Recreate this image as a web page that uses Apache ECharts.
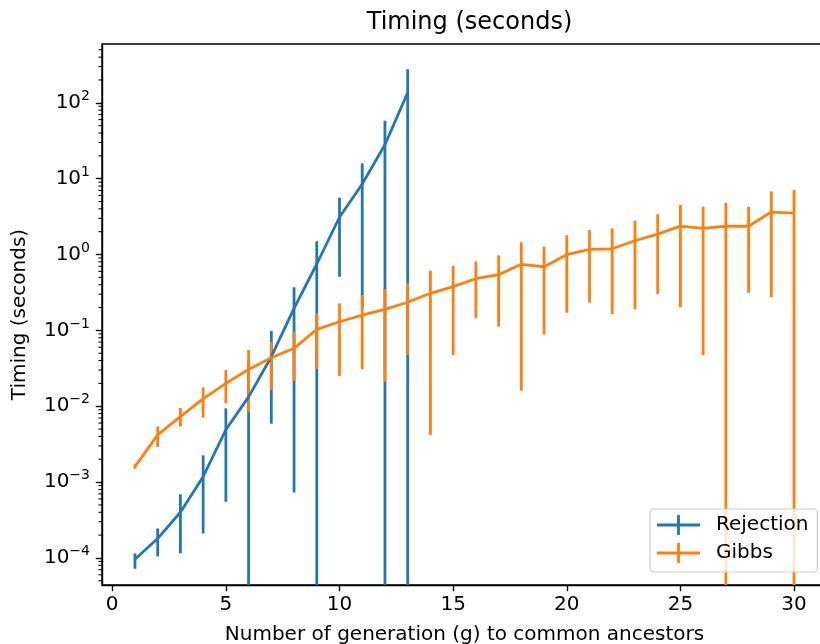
<!DOCTYPE html>
<html>
<head>
<meta charset="utf-8">
<script src="https://cdn.jsdelivr.net/npm/echarts@6/dist/echarts.min.js"></script>
<style>
  html, body { margin: 0; padding: 0; background: #fff; }
  #chart { width: 820px; height: 644px; }
</style>
</head>
<body>
<div id="chart"></div>
<script>
// generations (x)
const rejX = [1, 2, 3, 4, 5, 6, 7, 8, 9, 10, 11, 12, 13];
const gibbsX = [1, 2, 3, 4, 5, 6, 7, 8, 9, 10, 11, 12, 13, 14, 15,
  16, 17, 18, 19, 20, 21, 22, 23, 24, 25, 26, 27, 28, 29, 30];

// Rejection: mean timing and error bar ends (0 = lower end below the axis)
const rejMean = [9.6e-5, 1.8e-4, 4.0e-4, 1.18e-3, 4.9e-3, 1.33e-2, 4.5e-2, 0.195, 0.75, 3.1, 8.5, 28, 137];
const rejHigh = [1.15e-4, 2.45e-4, 6.9e-4, 2.25e-3, 9.4e-3, 4.0e-2, 0.098, 0.37, 1.5, 5.6, 15.9, 58, 277];
const rejLow = [7.2e-5, 1.05e-4, 1.15e-4, 2.1e-4, 5.5e-4, 0, 5.9e-3, 7.3e-4, 0, 0.51, 0.2, 0, 0];

// Gibbs
const gibbsMean = [1.6e-3, 4.2e-3, 7.3e-3, 0.0125, 0.020, 0.0306, 0.0436, 0.058, 0.103, 0.13,
  0.159, 0.189, 0.235, 0.308, 0.377, 0.48, 0.542, 0.743, 0.69, 0.995,
  1.17, 1.19, 1.52, 1.86, 2.37, 2.21, 2.36, 2.36, 3.63, 3.52];
const gibbsHigh = [1.7e-3, 5.4e-3, 9.5e-3, 0.0177, 0.030, 0.055, 0.0708, 0.096, 0.168, 0.227,
  0.292, 0.351, 0.417, 0.612, 0.705, 0.813, 0.976, 1.45, 1.27, 1.79,
  2.1, 2.21, 2.79, 3.39, 4.5, 4.27, 4.82, 4.27, 6.8, 7.08];
const gibbsLow = [1.5e-3, 2.9e-3, 5.4e-3, 7.1e-3, 0.0109, 8.3e-3, 0.0164, 0.0215, 0.031, 0.025,
  0.0306, 0.021, 0.0473, 4.2e-3, 0.0473, 0.146, 0.112, 0.016, 0.0887, 0.171,
  0.232, 0.163, 0.189, 0.301, 0.201, 0.0473, 0, 0.313, 0.273, 0];

// ticks
const xTicks = [0, 5, 10, 15, 20, 25, 30];
const yTicks = [1e-4, 1e-3, 1e-2, 1e-1, 1, 10, 100];

const xMin = -0.45, xMax = 31.45;
const yMin = 4.4e-5, yMax = 596;

// log minor ticks at 2..9 x 10^k
let minorTicks = [];
for (let k = -5; k <= 2; k++) {
  for (let m = 2; m <= 9; m++) {
    let v = m * Math.pow(10, k);
    if (v > yMin && v < yMax) minorTicks.push(v);
  }
}

const font = 'DejaVu Sans';
const blue = '#1f77b4';
const orange = '#ff7f0e';

function pairs(xs, ys) {
  return xs.map((x, i) => [x, ys[i]]);
}

function barData(xs, lows, highs) {
  return xs.map((x, i) => [x, lows[i] > 0 ? lows[i] : yMin, highs[i]]);
}

function renderBar(params, api) {
  const x = api.value(0);
  const p0 = api.coord([x, api.value(1)]);
  const p1 = api.coord([x, api.value(2)]);
  return {
    type: 'line',
    shape: { x1: p0[0], y1: p0[1], x2: p1[0], y2: p1[1] },
    style: { stroke: api.visual('color'), lineWidth: 2.8 }
  };
}

function supLabel(v) {
  const e = Math.round(Math.log10(v));
  return '{b|10}{s|' + (e < 0 ? '\u2212' + (-e) : e) + '}';
}

const chart = echarts.init(document.getElementById('chart'));

const options = {
  animation: false,
  backgroundColor: '#fff',
  title: {
    text: 'Timing (seconds)',
    left: 464.5,
    top: 6,
    textAlign: 'center',
    textStyle: { fontFamily: font, fontSize: 24, fontWeight: 'normal', color: '#000' }
  },
  legend: {
    orient: 'vertical',
    left: 650,
    top: 509,
    padding: [6, 9, 9, 7],
    itemGap: 8,
    itemWidth: 43,
    itemHeight: 20,
    backgroundColor: 'rgba(255,255,255,0.8)',
    borderColor: '#cccccc',
    borderWidth: 1.2,
    borderRadius: 4,
    itemStyle: { borderWidth: 0 },
    textStyle: { fontFamily: font, fontSize: 20, color: '#000', padding: [0, 0, 0, 11] },
    data: [
      { name: 'Rejection', icon: 'path://M0,8.6h43v2.8h-43z M20.1,0h2.8v20h-2.8z' },
      { name: 'Gibbs', icon: 'path://M0,8.6h43v2.8h-43z M20.1,0h2.8v20h-2.8z' }
    ]
  },
  grid: {
    left: 102,
    top: 44,
    width: 725,
    height: 541,
    containLabel: false,
    outerBoundsMode: 'none',
    show: true,
    borderColor: '#000',
    borderWidth: 1.4
  },
  xAxis: {
    type: 'value',
    min: xMin,
    max: xMax,
    name: 'Number of generation (g) to common ancestors',
    nameLocation: 'middle',
    nameGap: 40,
    nameTextStyle: { fontFamily: font, fontSize: 20, color: '#000' },
    axisLine: { onZero: false, lineStyle: { color: '#000', width: 1.4 } },
    axisTick: { customValues: xTicks, length: 6.2, lineStyle: { color: '#000', width: 1.4 } },
    axisLabel: { customValues: xTicks, margin: 10, fontFamily: font, fontSize: 20, color: '#000' },
    splitLine: { show: false }
  },
  yAxis: {
    type: 'log',
    logBase: 10,
    min: yMin,
    max: yMax,
    name: 'Timing (seconds)',
    nameLocation: 'middle',
    nameGap: 72,
    nameTextStyle: { fontFamily: font, fontSize: 20, color: '#000' },
    axisLine: { show: true, onZero: false, lineStyle: { color: '#000', width: 1.4 } },
    axisTick: { customValues: yTicks, length: 6.2, lineStyle: { color: '#000', width: 1.4 } },
    axisLabel: {
      customValues: yTicks,
      margin: 12,
      formatter: supLabel,
      rich: {
        b: { fontFamily: font, fontSize: 20, color: '#000' },
        s: { fontFamily: font, fontSize: 14, color: '#000', padding: [0, 0, 13, 0] }
      }
    },
    splitLine: { show: false }
  },
  series: [
    {
      name: 'Rejection bars',
      type: 'custom',
      color: blue,
      renderItem: renderBar,
      encode: { x: 0, y: [1, 2] },
      data: barData(rejX, rejLow, rejHigh)
    },
    {
      name: 'Rejection',
      type: 'line',
      color: blue,
      itemStyle: { color: blue },
      showSymbol: false,
      symbol: 'none',
      lineStyle: { color: blue, width: 2.8 },
      data: pairs(rejX, rejMean)
    },
    {
      name: 'Gibbs bars',
      type: 'custom',
      color: orange,
      renderItem: renderBar,
      encode: { x: 0, y: [1, 2] },
      data: barData(gibbsX, gibbsLow, gibbsHigh)
    },
    {
      name: 'Gibbs',
      type: 'line',
      color: orange,
      itemStyle: { color: orange },
      showSymbol: false,
      symbol: 'none',
      lineStyle: { color: orange, width: 2.8 },
      data: pairs(gibbsX, gibbsMean)
    },
    {
      // minor ticks of the log axis
      name: 'minor',
      type: 'custom',
      silent: true,
      clip: false,
      renderItem: function (params, api) {
        const p = api.coord([xMin, api.value(1)]);
        return {
          type: 'line',
          shape: { x1: p[0] - 3.6, y1: p[1], x2: p[0], y2: p[1] },
          style: { stroke: '#000', lineWidth: 1.05 }
        };
      },
      encode: { x: 0, y: 1 },
      data: minorTicks.map((v) => [xMin, v])
    }
  ]
};

chart.setOption(options);
</script>
</body>
</html>
